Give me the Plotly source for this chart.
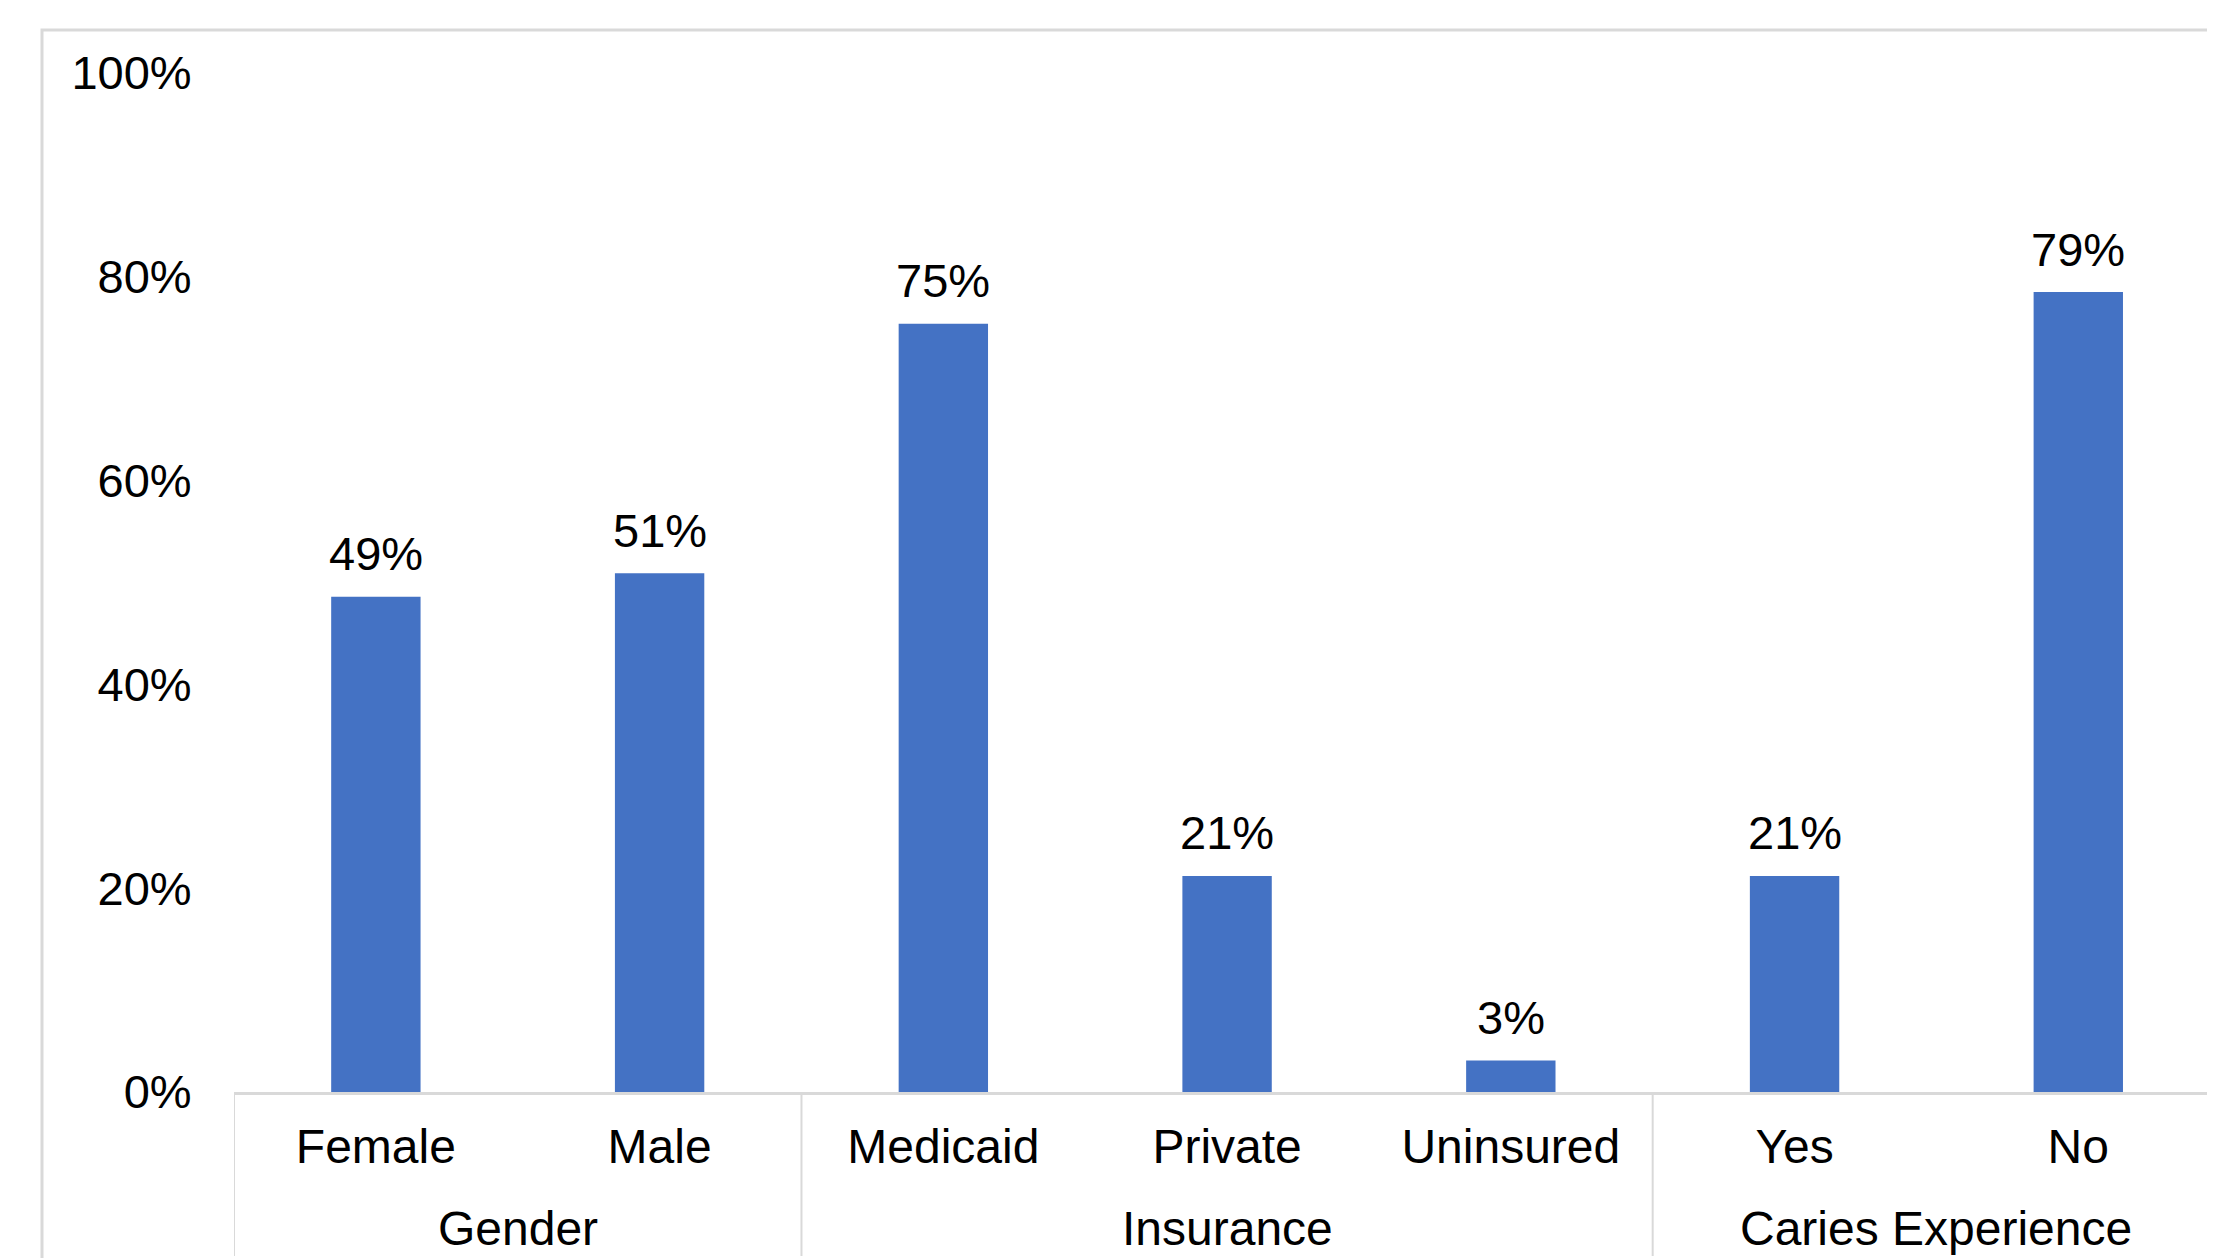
import plotly.graph_objects as go

categories = ["Female", "Male", "Medicaid", "Private", "Uninsured", "Yes", "No"]
values = [0.486, 0.509, 0.754, 0.212, 0.031, 0.212, 0.785]
labels = ["49%", "51%", "75%", "21%", "3%", "21%", "79%"]
groups = ["Gender", "Insurance", "Caries Experience"]
group_members = [[0, 1], [2, 3, 4], [5, 6]]
y_ticks = [0, 0.2, 0.4, 0.6, 0.8, 1.0]
y_ticktext = ["0%", "20%", "40%", "60%", "80%", "100%"]

OFF = 8  # default page body margin
W, H = 2215, 1258
L, R, T, B = 234 - OFF, 0, 73 - OFF, 166 + OFF
pw, ph = W - L - R, H - T - B
FONT = "Liberation Sans, Arial, sans-serif"
GRAY = "#d9d9d9"
BLUE = "#4472C4"

def px_to_paper_x(px):
    return (px - OFF - L) / pw

def px_to_paper_y(py):
    return (H - B - (py - OFF)) / ph

xs = list(range(len(categories)))
fig = go.Figure(go.Bar(x=xs, y=values, width=0.315, marker=dict(color=BLUE, line=dict(width=0)),
                       hoverinfo="skip"))

# data labels
for i, (v, t) in enumerate(zip(values, labels)):
    fig.add_annotation(x=i, y=v, text=t, showarrow=False, yanchor="middle", yshift=43,
                       font=dict(family=FONT, size=47, color="black"))

# group labels
for g, mem in zip(groups, group_members):
    cx = sum(mem) / len(mem)
    fig.add_annotation(x=cx, xref="x", y=px_to_paper_y(1228), yref="paper", text=g,
                       showarrow=False, yanchor="middle",
                       font=dict(family=FONT, size=48, color="black"))

# dividers
for dx in [-0.5, 1.5, 4.5]:
    fig.add_shape(type="line", xref="x", yref="paper", x0=dx, x1=dx, y0=0,
                  y1=px_to_paper_y(1256), line=dict(color=GRAY, width=2))

# outer frame
fig.add_shape(type="rect", xref="paper", yref="paper",
              x0=px_to_paper_x(42), x1=px_to_paper_x(W + 30),
              y0=px_to_paper_y(H + 30), y1=px_to_paper_y(30),
              line=dict(color=GRAY, width=3), layer="below")

fig.update_layout(
    width=W, height=H,
    margin=dict(l=L, r=R, t=T, b=B, pad=0),
    paper_bgcolor="white", plot_bgcolor="white",
    showlegend=False,
    font=dict(family=FONT, size=47, color="black"),
    xaxis=dict(
        range=[-0.5, 6.51], tickmode="array", tickvals=xs, ticktext=categories,
        showgrid=False, zeroline=False, showline=True, linecolor=GRAY, linewidth=3,
        ticks="outside", ticklen=10, tickcolor="rgba(0,0,0,0)",
        tickfont=dict(family=FONT, size=48, color="black"), fixedrange=True,
    ),
    yaxis=dict(
        range=[0, 1], tickmode="array", tickvals=y_ticks, ticktext=y_ticktext,
        showgrid=False, zeroline=False, showline=False,
        ticks="outside", ticklen=32, tickcolor="rgba(0,0,0,0)",
        tickfont=dict(family=FONT, size=47, color="black"), fixedrange=True,
    ),
)

fig.write_html("out.html")
